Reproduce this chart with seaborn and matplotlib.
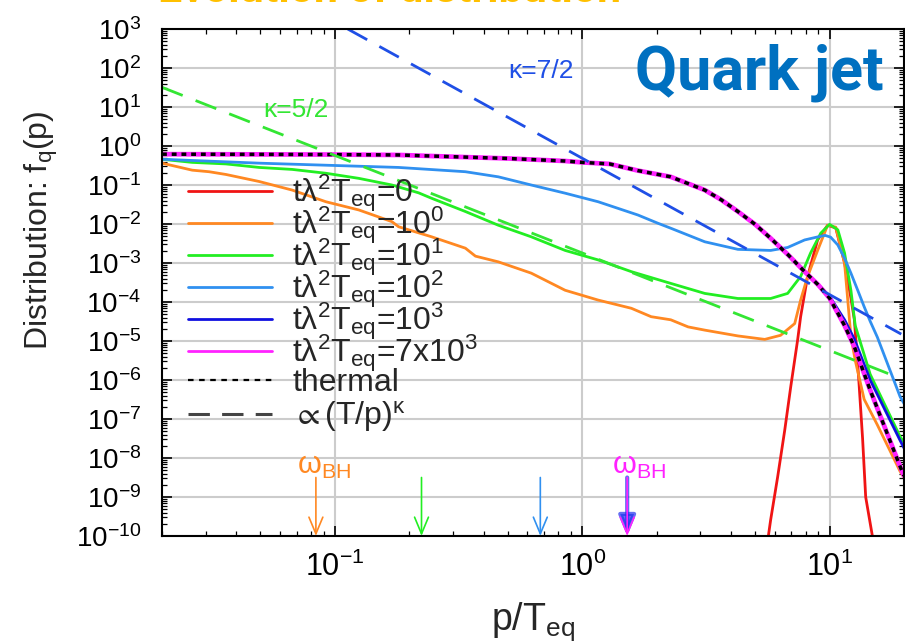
import matplotlib
matplotlib.use("Agg")
import matplotlib.pyplot as plt
import seaborn as sns
import pandas as pd
from matplotlib.lines import Line2D
from matplotlib.ticker import LogLocator, NullFormatter

# ---------------- data ----------------
p_red = [5.57, 5.78, 6.17, 6.59, 6.97, 7.43, 7.64, 8.15, 8.95, 9.82, 10.6, 11.5, 12.2, 12.6, 13.1, 13.6, 14.0, 14.9, 15.3]
f_red = [5e-11, 2.6e-10, 3.3e-9, 5.2e-8, 6.8e-7, 1.07e-5, 4.2e-5, 4.5e-4, 3.9e-3, 9.3e-3, 7.9e-3, 1.0e-3,
         1.26e-4, 3.5e-5, 1.26e-6, 3.2e-8, 1.0e-9, 1.0e-10, 4e-11]

p_orange = [0.02, 0.0265, 0.031, 0.0363, 0.0494, 0.0672, 0.092, 0.125, 0.170, 0.181, 0.246, 0.337, 0.370,
            0.458, 0.622, 0.853, 1.16, 1.58, 1.90, 2.28, 2.68, 3.13, 4.26, 5.47, 6.34, 7.23, 7.64, 8.15,
            8.95, 9.82, 10.6, 11.5, 12.2, 12.7, 13.8, 15.6, 19.3, 20.0]
f_orange = [0.363, 0.240, 0.219, 0.186, 0.123, 0.0741, 0.0372, 0.0229, 0.0115, 8.5e-3, 4.7e-3, 2.4e-3, 1.5e-3,
            1.07e-3, 5.5e-4, 2.0e-4, 1.12e-4, 6.9e-5, 4.2e-5, 3.5e-5, 2.3e-5, 1.9e-5, 1.35e-5, 1.1e-5, 1.4e-5,
            2.8e-5, 1.12e-4, 4.5e-4, 2.1e-3, 9.3e-3, 8.3e-3, 1.0e-3, 1.3e-5, 3.2e-6, 3.2e-7, 7.1e-8, 4.5e-9, 3.2e-9]

p_green = [0.02, 0.0265, 0.0363, 0.0494, 0.0672, 0.092, 0.125, 0.170, 0.218, 0.246, 0.337, 0.458, 0.622,
           0.853, 1.16, 1.58, 2.28, 3.13, 4.26, 5.78, 6.77, 7.64, 8.38, 9.21, 10.0, 10.8, 11.5, 12.2, 12.7,
           14.6, 19.3, 20.0]
f_green = [0.457, 0.380, 0.347, 0.282, 0.251, 0.200, 0.148, 0.100, 0.063, 0.0457, 0.0209, 9.3e-3, 4.7e-3,
           2.1e-3, 1.2e-3, 6.0e-4, 3.0e-4, 1.66e-4, 1.23e-4, 1.23e-4, 1.66e-4, 4.5e-4, 1.8e-3, 5.8e-3, 9.8e-3,
           7.1e-3, 1.8e-3, 2.0e-4, 2.5e-5, 1.4e-6, 3.5e-8, 2.5e-8]

p_lblue = [0.02, 0.0494, 0.181, 0.337, 0.458, 0.622, 0.853, 1.16, 1.68, 2.02, 2.28, 3.13, 4.26, 5.78, 6.77,
           7.93, 9.0, 9.6, 10.1, 10.8, 11.5, 12.2, 13.0, 13.8, 14.6, 15.6, 19.3, 20.0]
f_lblue = [0.457, 0.363, 0.282, 0.219, 0.162, 0.100, 0.0617, 0.0372, 0.0170, 0.0105, 7.8e-3, 3.5e-3, 2.24e-3,
           2.1e-3, 2.5e-3, 3.9e-3, 4.7e-3, 5.1e-3, 4.6e-3, 2.9e-3, 1.32e-3, 5.5e-4, 2.0e-4, 7.6e-5, 3.2e-5,
           1.26e-5, 3.7e-7, 2.5e-7]

p_thermal = [0.02, 0.05, 0.1, 0.181, 0.5, 0.853, 1.0, 1.29, 1.68, 2.28, 3.13, 3.65, 4.26, 5.0, 5.78, 6.8,
             7.93, 9.0, 10.0, 11.5, 12.6, 14.6, 19.3, 20.0]
f_thermal = [0.617, 0.61, 0.603, 0.589, 0.479, 0.412, 0.380, 0.347, 0.234, 0.162, 0.0741, 0.0417, 0.0209,
             9.8e-3, 4.3e-3, 1.62e-3, 6.0e-4, 2.75e-4, 1.26e-4, 2.5e-5, 7.1e-6, 5.5e-7, 6.0e-9, 3.5e-9]
f_magenta = list(f_thermal)

p_dblue = [0.02, 0.05, 0.1, 0.181, 0.5, 0.853, 1.0, 1.29, 1.68, 2.28, 3.13, 3.65, 4.26, 5.0, 5.78, 6.8,
           7.93, 9.0, 10.0, 11.5, 12.6, 14.6, 19.3, 20.0]
f_dblue = [0.617, 0.61, 0.603, 0.589, 0.479, 0.412, 0.380, 0.347, 0.234, 0.162, 0.0741, 0.0417, 0.0209,
           9.8e-3, 4.3e-3, 1.62e-3, 6.0e-4, 2.8e-4, 1.4e-4, 3.5e-5, 1.12e-5, 1.0e-6, 2.8e-8, 1.8e-8]

p_k72 = [0.1127, 19.5]
f_k72 = [1000.0, 1.5e-5]
p_k52 = [0.02, 19.0]
f_k52 = [32.0, 1.15e-6]

arrow_p = [0.0838, 0.224, 0.677, 1.52, 1.52]
arrow_colors = ["#ff8822", "#22ee22", "#3090f0", "#2233ee", "#ff22ff"]

labels = [r"tλ$^2$T$_{\mathrm{eq}}$=0", r"tλ$^2$T$_{\mathrm{eq}}$=10$^0$", r"tλ$^2$T$_{\mathrm{eq}}$=10$^1$",
          r"tλ$^2$T$_{\mathrm{eq}}$=10$^2$", r"tλ$^2$T$_{\mathrm{eq}}$=10$^3$",
          r"tλ$^2$T$_{\mathrm{eq}}$=7x10$^3$", "thermal", r"$\propto$(T/p)$^{\mathrm{κ}}$"]

# ---------------- style ----------------
sns.set_style("ticks")
plt.rcParams["font.family"] = ["Liberation Sans", "DejaVu Sans"]
plt.rcParams["mathtext.fontset"] = "custom"
plt.rcParams["mathtext.rm"] = "Liberation Sans"
plt.rcParams["mathtext.it"] = "Liberation Sans:italic"
plt.rcParams["mathtext.bf"] = "Liberation Sans:bold"
plt.rcParams["mathtext.fallback"] = "stixsans"

fig = plt.figure(figsize=(9.05, 6.41), dpi=100)
W, H = 905, 641
ax_l, ax_r, ax_t, ax_b = 162, 904, 29, 536
ax = fig.add_axes([ax_l / W, (H - ax_b) / H, (ax_r - ax_l) / W, (ax_b - ax_t) / H])

series = [
    (p_red, f_red, "#f01414", 2.0),
    (p_orange, f_orange, "#ff8822", 2.0),
    (p_green, f_green, "#22ee22", 2.0),
    (p_lblue, f_lblue, "#3090f0", 2.0),
    (p_dblue, f_dblue, "#1010e0", 2.0),
    (p_thermal, f_magenta, "#ff22ff", 3.4),
]
handles = []
for (px, fy, col, lw), lab in zip(series, labels[:6]):
    sns.lineplot(x=px, y=fy, ax=ax, color=col, lw=lw, sort=False, legend=False)
    handles.append(Line2D([], [], color=col, lw=2.0))

sns.lineplot(x=p_thermal, y=f_thermal, ax=ax, color="black", lw=2.5, sort=False, legend=False)
ax.lines[-1].set_linestyle((0, (1.4, 1.4)))
handles.append(Line2D([], [], color="black", lw=1.6, linestyle=(0, (2.5, 2.5))))

sns.lineplot(x=p_k72, y=f_k72, ax=ax, color="#1f4fe6", lw=2.0, legend=False)
ax.lines[-1].set_linestyle((0, (8, 5)))
sns.lineplot(x=p_k52, y=f_k52, ax=ax, color="#33e633", lw=2.0, legend=False)
ax.lines[-1].set_linestyle((0, (8, 5)))
handles.append(Line2D([], [], color="#444444", lw=2.2, linestyle=(0, (7, 4))))

ax.set_xscale("log")
ax.set_yscale("log")
ax.set_xlim(0.02, 20)
ax.set_ylim(1e-10, 1e3)

# arrows
for i, (pa, c) in enumerate(zip(arrow_p, arrow_colors)):
    if i == 3:
        ax.annotate("", xy=(pa, 1e-10), xytext=(pa, 10 ** -8.5),
                    arrowprops=dict(arrowstyle="-|>,head_length=0.6,head_width=0.25", color=c, lw=3.0,
                                    alpha=0.7, mutation_scale=20, shrinkA=0, shrinkB=0))
    else:
        ax.annotate("", xy=(pa, 1e-10), xytext=(pa, 10 ** -8.5),
                    arrowprops=dict(arrowstyle="->,head_length=0.6,head_width=0.25", color=c, lw=1.2,
                                    mutation_scale=20, shrinkA=0, shrinkB=0))

ax.text(0.182, 0.122, r"ω$_{\mathrm{BH}}$", transform=ax.transAxes, color="#ff8822", fontsize=22,
        ha="left", va="baseline")
ax.text(0.606, 0.122, r"ω$_{\mathrm{BH}}$", transform=ax.transAxes, color="#ff22ff", fontsize=22,
        ha="left", va="baseline")
ax.text(0.467, 0.917, "κ=7/2", transform=ax.transAxes, color="#1f4fe6", fontsize=19, ha="left", va="center")
ax.text(0.136, 0.840, "κ=5/2", transform=ax.transAxes, color="#33e633", fontsize=19, ha="left", va="center")
ax.text(0.637, 0.880, "Quark jet", transform=ax.transAxes, color="#0070c0", fontsize=44,
        fontweight="bold", family="Roboto", ha="left", va="baseline")

fig.text(158 / W, (H - 2) / H, "Evolution of distribution", color="#ffc000", fontsize=31,
         fontweight="bold", family="Roboto", ha="left", va="baseline")

# grid / ticks
ax.grid(True, which="major", color="#cccccc", lw=1.5)
ax.set_axisbelow(True)
ax.xaxis.set_major_locator(LogLocator(base=10, numticks=20))
ax.xaxis.set_minor_locator(LogLocator(base=10, subs=range(2, 10), numticks=50))
ax.yaxis.set_major_locator(LogLocator(base=10, numticks=30))
ax.yaxis.set_minor_locator(LogLocator(base=10, subs=range(2, 10), numticks=200))
ax.xaxis.set_minor_formatter(NullFormatter())
ax.yaxis.set_minor_formatter(NullFormatter())
ax.tick_params(which="both", direction="in", top=True, right=True, colors="black")
ax.tick_params(which="major", length=7, width=1.2)
ax.tick_params(which="minor", length=3.5, width=0.9)
ax.tick_params(axis="x", which="major", labelsize=22, pad=11)
ax.tick_params(axis="y", which="major", labelsize=20, pad=15)
for s in ax.spines.values():
    s.set_linewidth(1.5)
    s.set_color("black")

ax.set_xlabel(r"p/T$_{\mathrm{eq}}$", fontsize=27)
ax.xaxis.set_label_coords(0.5, -0.126)
ax.set_ylabel(r"Distribution: f$_{\mathrm{q}}$(p)", fontsize=23)
ax.yaxis.set_label_coords(-0.137, 0.604)

leg_kw = dict(frameon=False, fontsize=23, handlelength=2.63, handletextpad=0.63,
              borderpad=0, borderaxespad=0, loc="upper left")
leg1 = ax.legend(handles[:6], labels[:6], bbox_to_anchor=(0.035, 0.716), labelspacing=-0.3, **leg_kw)
ax.add_artist(leg1)
leg2 = ax.legend(handles[6:], labels[6:], bbox_to_anchor=(0.035, 0.331), labelspacing=0.02, **leg_kw)

fig.savefig("out.png", dpi=100)
